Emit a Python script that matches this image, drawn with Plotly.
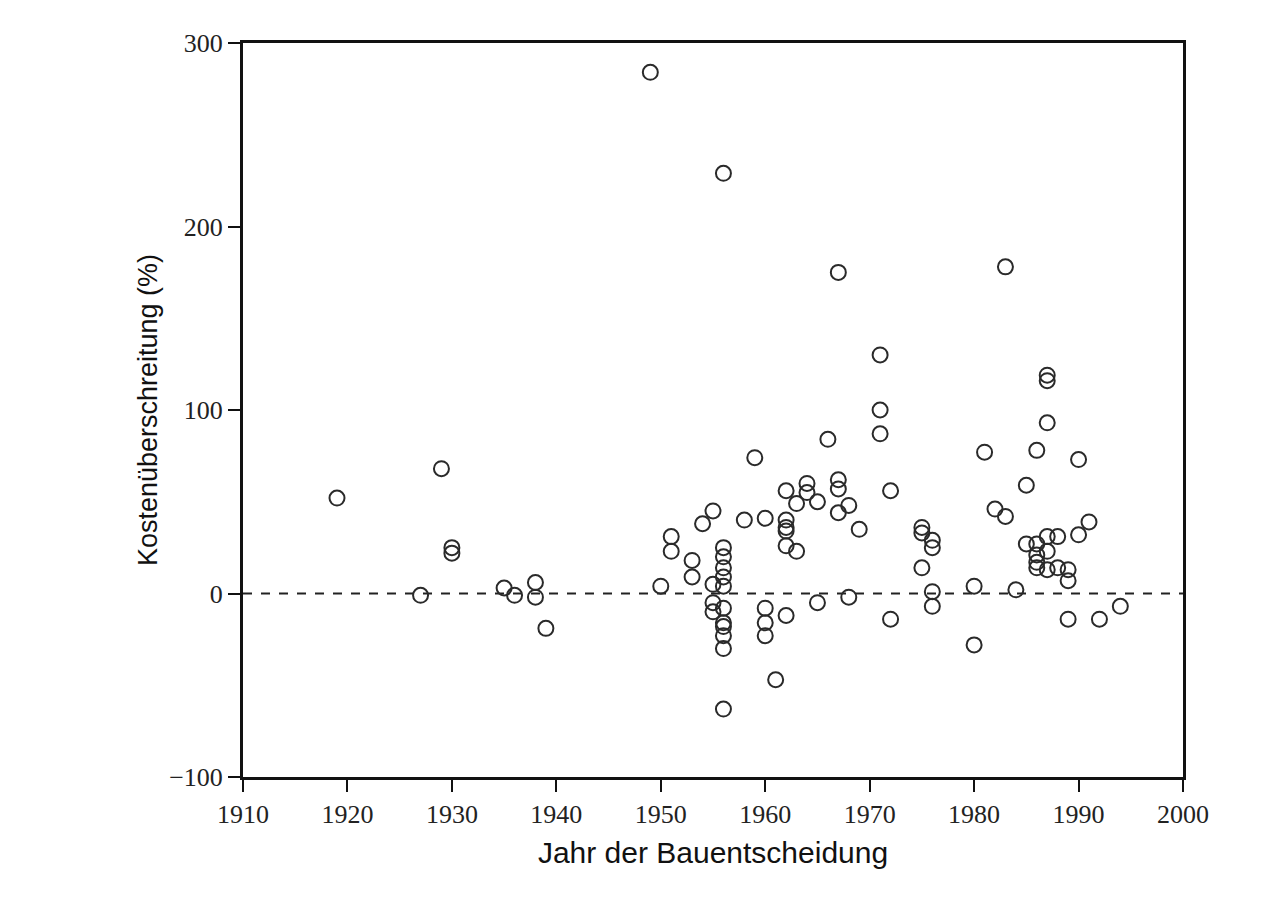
import plotly.graph_objects as go

years = [1919, 1927, 1929, 1930, 1930, 1935, 1936, 1938, 1938, 1939,
         1949, 1950, 1951, 1951, 1953, 1953, 1954, 1955, 1955, 1955, 1955,
         1956, 1956, 1956, 1956, 1956, 1956, 1956, 1956, 1956, 1956, 1956, 1956,
         1958, 1959, 1960, 1960, 1960, 1960, 1961,
         1962, 1962, 1962, 1962, 1962, 1962, 1963, 1963, 1964, 1964, 1965, 1965,
         1966, 1967, 1967, 1967, 1967, 1968, 1968, 1969,
         1971, 1971, 1971, 1972, 1972,
         1975, 1975, 1975, 1976, 1976, 1976, 1976,
         1980, 1980, 1981, 1982, 1983, 1983, 1984, 1985, 1985,
         1986, 1986, 1986, 1986, 1986, 1987, 1987, 1987, 1987, 1987, 1987,
         1988, 1988, 1989, 1989, 1989, 1990, 1990, 1991, 1992, 1994]
overrun = [52, -1, 68, 25, 22, 3, -1, 6, -2, -19,
           284, 4, 31, 23, 18, 9, 38, 45, 5, -5, -10,
           229, 25, 20, 14, 9, 4, -8, -16, -18, -23, -30, -63,
           40, 74, 41, -8, -16, -23, -47,
           56, 40, 36, 34, 26, -12, 49, 23, 60, 55, 50, -5,
           84, 175, 62, 57, 44, 48, -2, 35,
           130, 100, 87, 56, -14,
           36, 33, 14, 29, 25, 1, -7,
           4, -28, 77, 46, 178, 42, 2, 59, 27,
           78, 27, 21, 17, 14, 119, 116, 93, 31, 23, 13,
           31, 14, 13, 7, -14, 73, 32, 39, -14, -7]

x_ticks = [1910, 1920, 1930, 1940, 1950, 1960, 1970, 1980, 1990, 2000]
y_ticks = [-100, 0, 100, 200, 300]

fig = go.Figure()
fig.add_trace(go.Scatter(
    x=years, y=overrun, mode="markers",
    marker=dict(symbol="circle-open", size=15, color="#2a2a2a",
                line=dict(width=2, color="#2a2a2a")),
    showlegend=False, hoverinfo="x+y"))

fig.add_shape(type="line", xref="x", yref="y", x0=1910, x1=2000, y0=0, y1=0,
              line=dict(color="#222", width=2, dash="dash"), layer="below")

fig.update_layout(
    width=1285, height=915,
    margin=dict(l=243, r=102, t=43, b=138),
    paper_bgcolor="white", plot_bgcolor="white",
    font=dict(family="Liberation Serif", color="#222", size=20),
)
fig.update_xaxes(
    range=[1910, 2000], tickvals=x_ticks, ticktext=[str(v) for v in x_ticks],
    showgrid=False, zeroline=False, showline=True, mirror=True,
    linecolor="#111", linewidth=3, ticks="outside", ticklen=12, tickwidth=2,
    tickcolor="#111", tickfont=dict(family="Liberation Serif", size=26),
    title=dict(text="Jahr der Bauentscheidung",
               font=dict(family="Liberation Sans", size=30, color="#111"),
               standoff=14),
)
fig.update_yaxes(
    range=[-100, 300], tickvals=y_ticks,
    showgrid=False, zeroline=False, showline=True, mirror=True,
    linecolor="#111", linewidth=3, ticks="outside", ticklen=12, tickwidth=2,
    tickcolor="#111", tickfont=dict(family="Liberation Serif", size=26),
    title=dict(text="Kostenüberschreitung (%)",
               font=dict(family="Liberation Sans", size=27, color="#111"),
               standoff=4),
)

fig.write_html("out.html")
